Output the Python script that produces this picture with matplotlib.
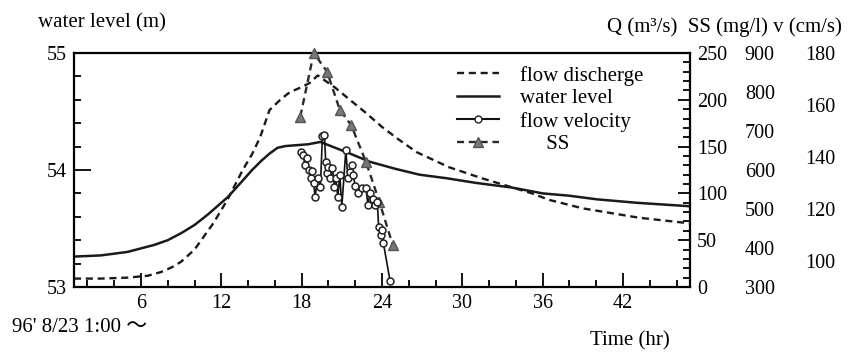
import numpy as np
import matplotlib
matplotlib.use('Agg')
import matplotlib.pyplot as plt
from matplotlib.ticker import MultipleLocator
from matplotlib.lines import Line2D

plt.rcParams['font.family'] = ['Liberation Serif', 'DejaVu Serif']

# water level (m)
t_wl = [1, 3, 5, 7, 8, 9, 10, 11, 12, 12.5, 13.6, 14.3, 15, 15.6, 16.2, 16.8, 17.4,
        18.5, 19.4, 20.5, 21.4, 23.1, 25, 26.8, 28.8, 31, 33.7, 36, 38, 40, 43, 47]
wl = [53.26, 53.27, 53.30, 53.36, 53.40, 53.46, 53.53, 53.62, 53.72, 53.77, 53.91,
      54.00, 54.08, 54.14, 54.19, 54.205, 54.21, 54.22, 54.24, 54.19, 54.15, 54.07,
      54.01, 53.96, 53.93, 53.89, 53.85, 53.80, 53.78, 53.75, 53.72, 53.69]

# flow discharge Q (m3/s)
t_q = [1, 3, 5, 6.5, 7.5, 8.3, 9, 10, 11.4, 12.45, 13.6, 14.3, 14.9, 15.6, 16.4,
       17.1, 17.9, 18.6, 19.2, 20.5, 21.6, 22.8, 24, 25.3, 26.6, 29, 31.5, 35.2,
       36.5, 39, 43.2, 47]
q = [9, 9, 10, 12, 16, 21, 27, 40, 68, 93, 125, 142, 160, 189, 200,
     208, 213, 218, 226, 213, 200, 186, 171, 157, 144, 128, 116, 100,
     93, 84, 74, 68]

# suspended solids SS (mg/l)
t_ss = [17.9, 18.9, 19.9, 20.85, 21.7, 22.8, 23.8, 24.8]
ss = [737, 900, 852, 754, 715, 621, 519, 408]

# flow velocity v (cm/s)
t_v = [17.95, 18.1, 18.25, 18.4, 18.55, 18.7, 18.8, 18.9, 19.0, 19.2, 19.4,
       19.55, 19.7, 19.8, 19.9, 20.0, 20.15, 20.3, 20.45, 20.55, 20.7, 20.85, 21.0,
       21.3, 21.45, 21.6, 21.75, 21.85, 22.0, 22.2, 22.5, 22.8, 22.95, 23.1, 23.3,
       23.5, 23.65, 23.75, 23.9, 24.0, 24.1, 24.6]
vel = [142.0, 140.8, 137.0, 139.5, 135.0, 132.0, 134.5, 130.0, 124.6, 132.0, 128.5,
       148.0, 148.5, 138.0, 134.0, 136.0, 132.0, 135.7, 128.5, 132.0, 124.6, 133.0, 120.9,
       142.7, 132.0, 134.3, 137.0, 133.0, 129.0, 126.0, 128.0, 128.0, 121.5, 126.0, 124.0,
       121.5, 122.8, 113.0, 110.0, 112.0, 107.0, 92.4]

fig = plt.figure(figsize=(8.63, 3.56), dpi=100)
ax = fig.add_axes([74/863, 1-287/356, 616/863, 234/356])

# water level on left axis
ax.plot(t_wl, wl, color='#1a1a1a', lw=1.8)
ax.set_xlim(1, 47)
ax.set_ylim(53, 55)
ax.set_xticks([6, 12, 18, 24, 30, 36, 42])
ax.xaxis.set_minor_locator(MultipleLocator(2))
ax.set_yticks([53, 54, 55])
ax.yaxis.set_minor_locator(MultipleLocator(0.2))
ax.tick_params(axis='x', which='major', direction='in', length=10, width=1.3,
               labelsize=14.5, pad=5)
ax.tick_params(axis='x', which='minor', direction='in', length=5, width=1.3)
ax.tick_params(axis='y', which='major', direction='in', length=12, width=1.3,
               labelsize=14.5, pad=5)
ax.tick_params(axis='y', which='minor', direction='in', length=5, width=1.3)
for s in ax.spines.values():
    s.set_linewidth(1.6)

# discharge on right axis
ax2 = ax.twinx()
ax2.plot(t_q, q, color='#1a1a1a', lw=1.7, dashes=(3, 2))
ax2.set_ylim(0, 250)
ax2.set_yticks(range(0, 251, 50))
ax2.yaxis.set_minor_locator(MultipleLocator(10))
ax2.tick_params(axis='y', which='major', direction='in', length=9, width=1.3,
                labelsize=14.5, pad=5)
ax2.tick_params(axis='y', which='minor', direction='in', length=5, width=1.3)
for s in ax2.spines.values():
    s.set_visible(False)

# SS axis (labels only)
ax3 = ax.twinx()
ax3.plot(t_ss, ss, color='#2a2a2a', lw=1.7, dashes=(3, 2), clip_on=False,
         marker='^', markersize=7, markerfacecolor='#777777', markeredgecolor='#555555')
ax3.set_ylim(300, 900)
ax3.set_yticks(range(300, 901, 100))
ax3.spines['right'].set_position(('outward', 36))
for s in ax3.spines.values():
    s.set_visible(False)
ax3.tick_params(axis='y', length=0, labelsize=14.5, pad=3.5)

# velocity axis (labels only)
ax4 = ax.twinx()
ax4.plot(t_v, vel, color='#111111', lw=1.2, marker='o', markersize=5,
         markerfacecolor='white', markeredgecolor='#222222', markeredgewidth=1.1)
ax4.set_ylim(90, 180)
ax4.set_yticks(range(100, 181, 20))
ax4.spines['right'].set_position(('outward', 80))
for s in ax4.spines.values():
    s.set_visible(False)
ax4.tick_params(axis='y', length=0, labelsize=14.5, pad=3)

handles = [
    Line2D([], [], color='#1a1a1a', lw=1.7, dashes=(3, 2)),
    Line2D([], [], color='#1a1a1a', lw=1.8),
    Line2D([], [], color='#111111', lw=1.5, marker='o', markersize=5,
           markerfacecolor='white', markeredgecolor='#222222'),
    Line2D([], [], color='#2a2a2a', lw=1.7, dashes=(3, 2), marker='^', markersize=7,
           markerfacecolor='#777777', markeredgecolor='#555555'),
]
labels = ['flow discherge', 'water level', 'flow velocity', '     SS']
ax4.legend(handles, labels, loc='upper left', bbox_to_anchor=(0.622, 0.945),
           frameon=False, fontsize=15, handlelength=2.0, handletextpad=1.0,
           labelspacing=0.15, borderpad=0, borderaxespad=0)

fig.text(38/863, 1-23/356, 'water level (m)', fontsize=15, va='center', ha='left')
fig.text(607/863, 1-27/356, 'Q (m³/s)  SS (mg/l) v (cm/s)', fontsize=15,
         va='center', ha='left')
fig.text(12/863, 1-327/356, "96' 8/23 1:00 〜", fontsize=15, va='center', ha='left',
         family=['Liberation Serif', 'Noto Sans CJK JP'])
fig.text(590/863, 1-341/356, 'Time (hr)', fontsize=15, va='center', ha='left')

fig.savefig('out.png', dpi=100)
